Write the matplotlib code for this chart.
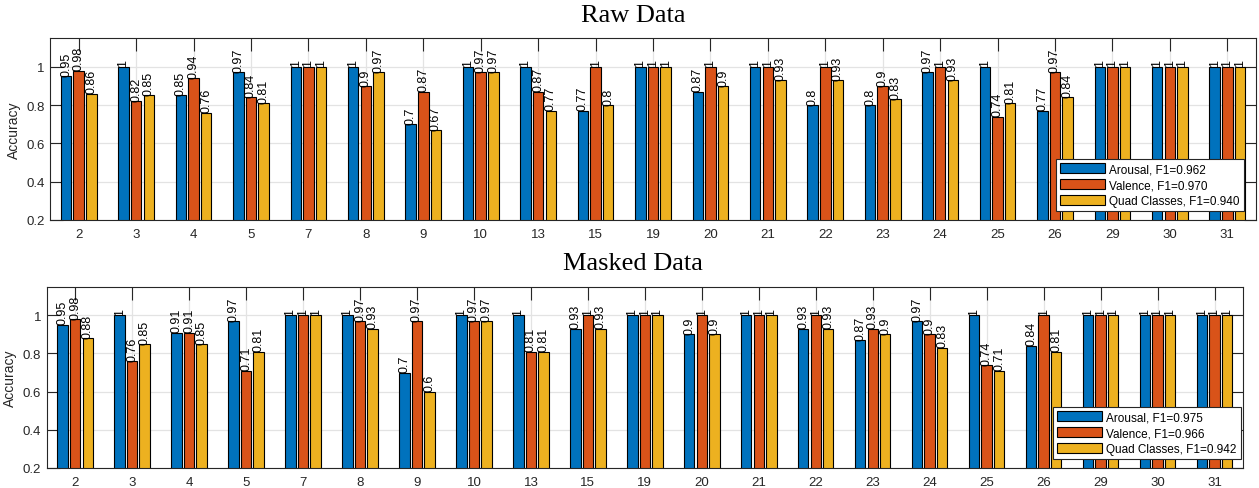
import matplotlib
matplotlib.use("Agg")
import matplotlib.pyplot as plt
import numpy as np

categories = ["2", "3", "4", "5", "7", "8", "9", "10", "13", "15", "19", "20",
              "21", "22", "23", "24", "25", "26", "29", "30", "31"]

raw_arousal = [0.95, 1, 0.85, 0.97, 1, 1, 0.7, 1, 1, 0.77, 1, 0.87, 1, 0.8, 0.8, 0.97, 1, 0.77, 1, 1, 1]
raw_valence = [0.98, 0.82, 0.94, 0.84, 1, 0.9, 0.87, 0.97, 0.87, 1, 1, 1, 1, 1, 0.9, 1, 0.74, 0.97, 1, 1, 1]
raw_quad = [0.86, 0.85, 0.76, 0.81, 1, 0.97, 0.67, 0.97, 0.77, 0.8, 1, 0.9, 0.93, 0.93, 0.83, 0.93, 0.81, 0.84, 1, 1, 1]

masked_arousal = [0.95, 1, 0.91, 0.97, 1, 1, 0.7, 1, 1, 0.93, 1, 0.9, 1, 0.93, 0.87, 0.97, 1, 0.84, 1, 1, 1]
masked_valence = [0.98, 0.76, 0.91, 0.71, 1, 0.97, 0.97, 0.97, 0.81, 1, 1, 1, 1, 1, 0.93, 0.9, 0.74, 1, 1, 1, 1]
masked_quad = [0.88, 0.85, 0.85, 0.81, 1, 0.93, 0.6, 0.97, 0.81, 0.93, 1, 0.9, 1, 0.93, 0.9, 0.83, 0.71, 0.81, 1, 1, 1]

raw_labels = ["Arousal, F1=0.962", "Valence, F1=0.970", "Quad Classes, F1=0.940"]
masked_labels = ["Arousal, F1=0.975", "Valence, F1=0.966", "Quad Classes, F1=0.942"]

titles = ["Raw Data", "Masked Data"]
yticks = [0.2, 0.4, 0.6, 0.8, 1.0]
ytick_labels = ["0.2", "0.4", "0.6", "0.8", "1"]

colors = ["#0072BD", "#D95319", "#EDB120"]
dark = "#262626"

plt.rcParams["font.family"] = ["Liberation Sans", "DejaVu Sans"]

fig = plt.figure(figsize=(12.59, 4.89), dpi=100)
W, H = 1259, 489


def px_axes(l, t, r, b):
    return fig.add_axes([l / W, 1 - b / H, (r - l) / W, (b - t) / H])


ax1 = px_axes(50, 39, 1256, 221)
ax2 = px_axes(46.7, 287.7, 1243, 469)

datasets = [
    (ax1, [raw_arousal, raw_valence, raw_quad], raw_labels, (0.990, 0.049)),
    (ax2, [masked_arousal, masked_valence, masked_quad], masked_labels, (0.9983, 0.0496)),
]

x = np.arange(1, len(categories) + 1)
offsets = [-0.22, 0.0, 0.22]
bw = 0.183


def fmt(v):
    return ("%.2f" % v).rstrip("0").rstrip(".")


for ax, series, labels, anchor in datasets:
    ax.set_xlim(0.5, len(categories) + 0.5)
    ax.set_ylim(0.2, 1.15)
    for yv in yticks:
        ax.axhline(yv, color="#e3e3e3", lw=0.9, zorder=0.5)
    for xv in x:
        ax.axvline(xv, color="#e3e3e3", lw=0.9, zorder=0.5)
    handles = []
    for vals, off, c, lab in zip(series, offsets, colors, labels):
        bars = ax.bar(x + off, vals, width=bw, bottom=0, color=c, edgecolor="black",
                      linewidth=0.8, zorder=2, label=lab)
        handles.append(bars)
        for xi, v in zip(x + off, vals):
            ax.text(xi, v + 0.002, fmt(v), rotation=90, ha="center", va="bottom",
                    fontsize=9, color="black", zorder=4)
    ax.set_xticks(x)
    ax.set_xticklabels(categories)
    ax.set_yticks(yticks)
    ax.set_yticklabels(ytick_labels)
    ax.tick_params(axis="both", direction="in", length=9, width=0.8, color=dark,
                   labelcolor=dark, labelsize=9.5, top=True, right=True)
    ax.tick_params(axis="x", pad=6)
    ax.tick_params(axis="y", pad=4)
    ax.set_ylabel("Accuracy", fontsize=10, color=dark, labelpad=4)
    for sp in ax.spines.values():
        sp.set_color(dark)
        sp.set_linewidth(0.8)
        sp.set_zorder(5)
    leg = ax.legend(handles=handles, loc="lower right", bbox_to_anchor=anchor,
                    borderaxespad=0, fontsize=8.5, handlelength=3.8, handleheight=1.0,
                    handletextpad=0.35, labelspacing=0.3, borderpad=0.35,
                    frameon=True, fancybox=False, framealpha=1, edgecolor=dark)
    leg.get_frame().set_linewidth(0.8)
    leg.set_zorder(6)

fig.text(633 / W, 1 - 16 / H, titles[0], ha="center", va="center",
         fontsize=19, family=["Liberation Serif", "DejaVu Serif"], color="black")
fig.text(633 / W, 1 - 264 / H, titles[1], ha="center", va="center",
         fontsize=19, family=["Liberation Serif", "DejaVu Serif"], color="black")

fig.savefig("out.png", dpi=100)
